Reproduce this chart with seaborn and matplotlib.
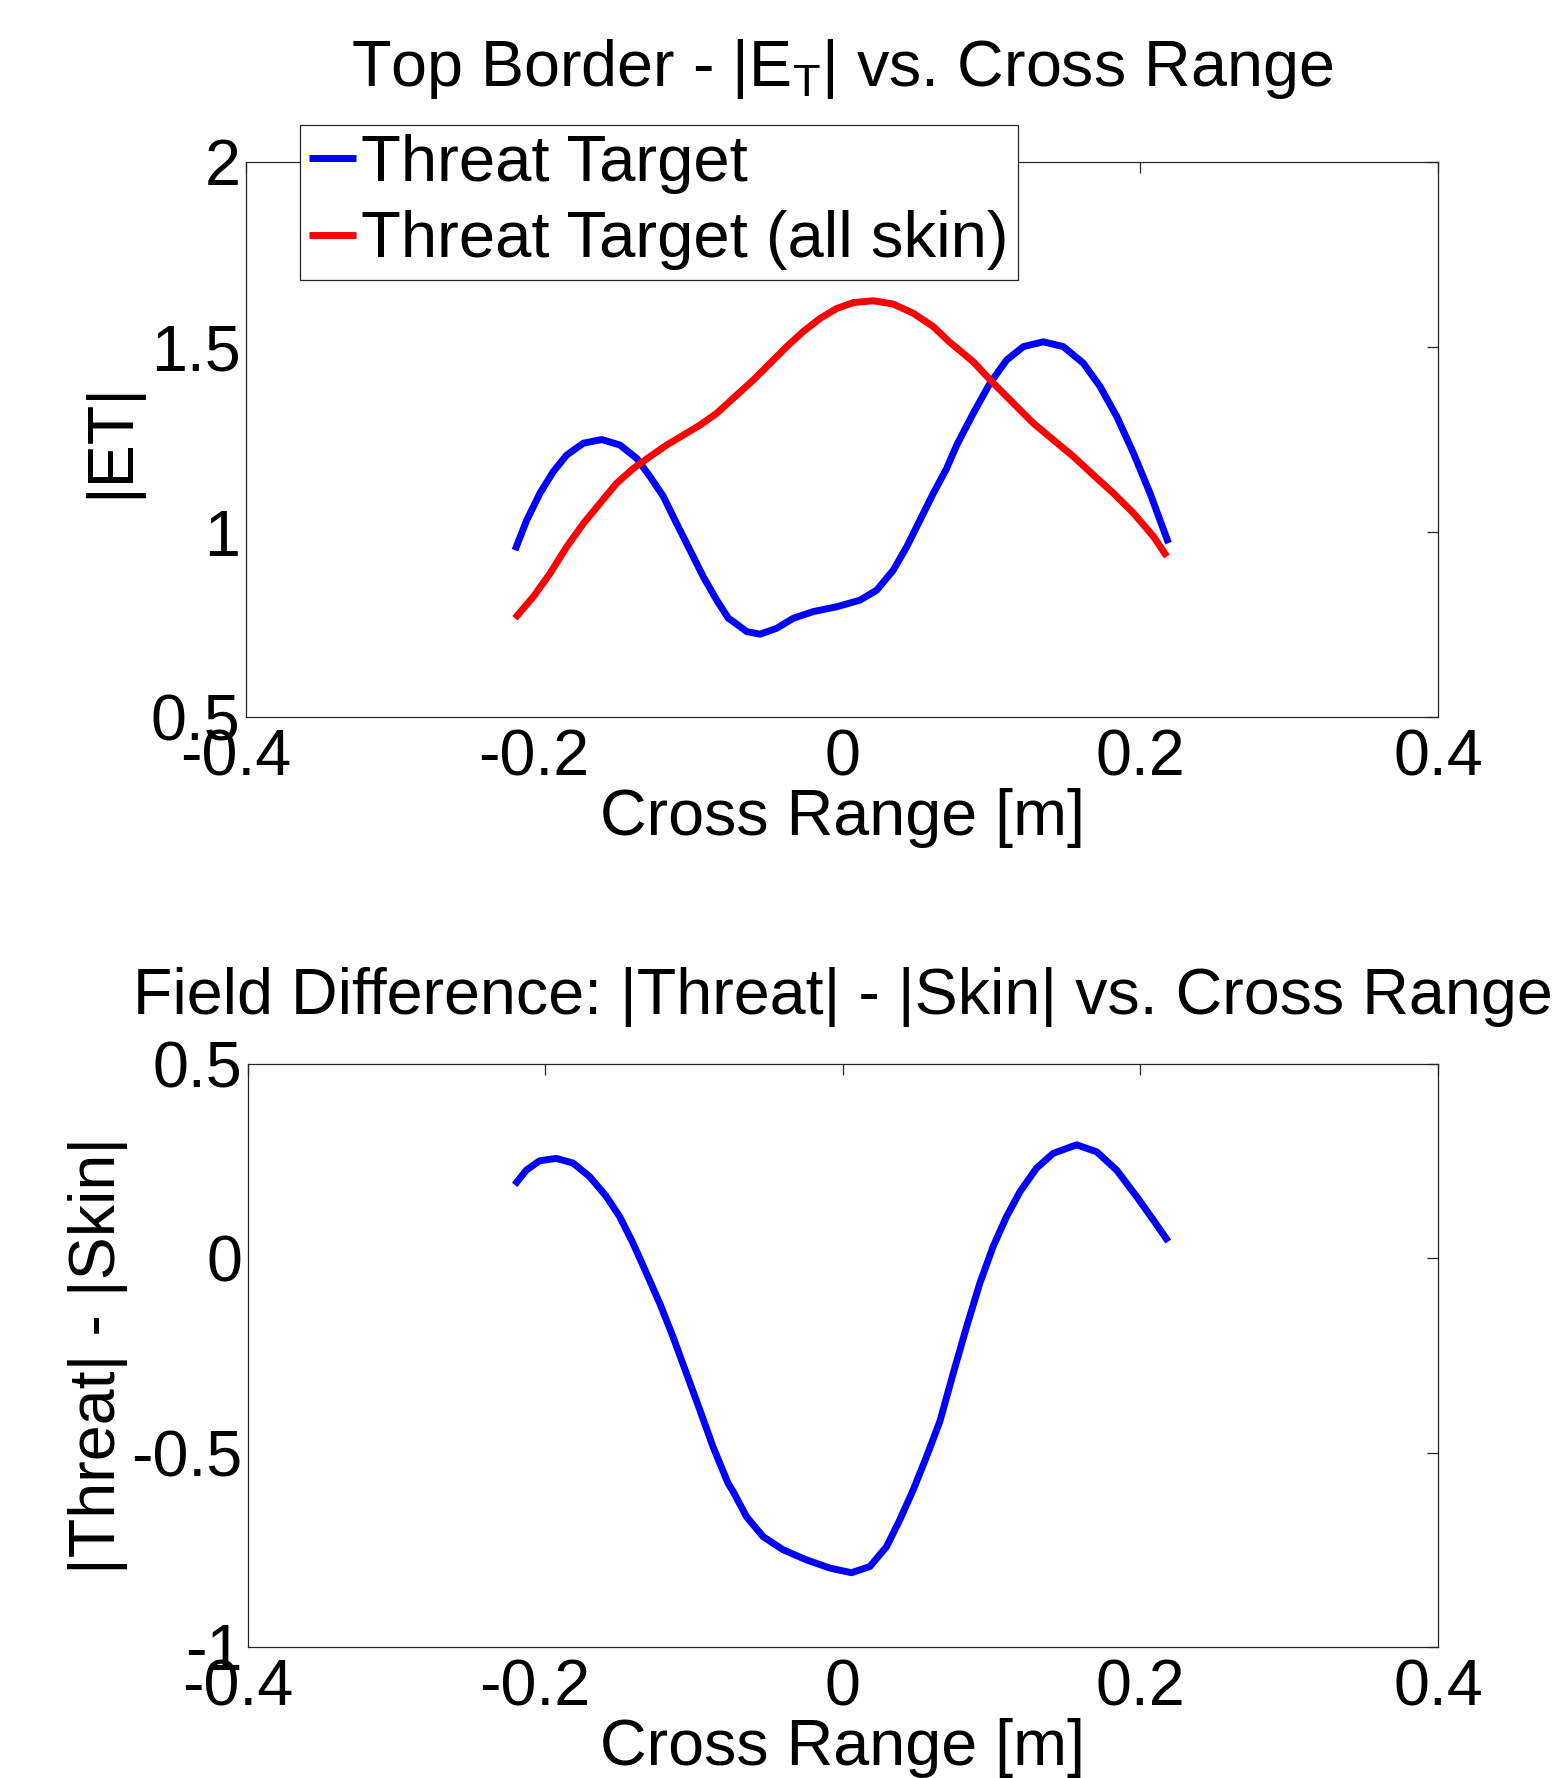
import matplotlib
matplotlib.use("Agg")
import matplotlib.pyplot as plt
import matplotlib.transforms as mtransforms
import seaborn as sns
import pandas as pd

# Top panel: |E_T| along the top border
x_threat = [-0.2195, -0.2116, -0.2027, -0.1938, -0.1848, -0.1736, -0.1613, -0.1490,
            -0.1378, -0.1289, -0.1199, -0.1110, -0.1020, -0.0931, -0.0841, -0.0763,
            -0.0730, -0.0640, -0.0550, -0.0438, -0.0327, -0.0193, -0.0036, 0.0121,
            0.0233, 0.0344, 0.0434, 0.0523, 0.0613, 0.0700, 0.0770, 0.0881, 0.0993,
            0.1105, 0.1217, 0.1351, 0.1485, 0.1620, 0.1732, 0.1844, 0.1956, 0.2067,
            0.2191]
et_threat = [0.951, 1.032, 1.105, 1.163, 1.208, 1.240, 1.250, 1.235,
             1.199, 1.150, 1.096, 1.023, 0.951, 0.879, 0.816, 0.767,
             0.758, 0.731, 0.724, 0.740, 0.767, 0.785, 0.798, 0.816,
             0.843, 0.897, 0.960, 1.032, 1.105, 1.170, 1.235, 1.321, 1.402,
             1.465, 1.501, 1.514, 1.501, 1.456, 1.393, 1.312, 1.213, 1.105,
             0.970]

x_skin = [-0.2195, -0.2072, -0.1960, -0.1848, -0.1736, -0.1624, -0.1512, -0.1400,
          -0.1289, -0.1177, -0.1065, -0.0953, -0.0841, -0.0756, -0.0707, -0.0595,
          -0.0483, -0.0371, -0.0260, -0.0148, -0.0036, 0.0076, 0.0210, 0.0344,
          0.0479, 0.0613, 0.0720, 0.0881, 0.1016, 0.1150, 0.1284, 0.1418, 0.1553,
          0.1687, 0.1821, 0.1956, 0.2090, 0.2180]
et_skin = [0.767, 0.825, 0.888, 0.960, 1.023, 1.078, 1.132, 1.172,
           1.204, 1.235, 1.262, 1.289, 1.321, 1.352, 1.370, 1.411,
           1.456, 1.501, 1.542, 1.577, 1.604, 1.620, 1.625, 1.616,
           1.591, 1.555, 1.514, 1.460, 1.402, 1.348, 1.294, 1.249, 1.204,
           1.154, 1.105, 1.051, 0.988, 0.934]

# Bottom panel: |Threat| - |Skin|
x_diff = [-0.2205, -0.2126, -0.2037, -0.1925, -0.1813, -0.1701, -0.1589, -0.1499,
          -0.1410, -0.1320, -0.1230, -0.1141, -0.1051, -0.0961, -0.0872, -0.0771,
          -0.0737, -0.0647, -0.0536, -0.0401, -0.0244, -0.0087, 0.0058, 0.0182,
          0.0294, 0.0383, 0.0473, 0.0563, 0.0652, 0.0742, 0.0832, 0.0921, 0.1010,
          0.1100, 0.1190, 0.1302, 0.1414, 0.1571, 0.1706, 0.1840, 0.1974, 0.2086,
          0.2187]
field_diff = [0.189, 0.227, 0.251, 0.257, 0.245, 0.210, 0.159, 0.107,
              0.039, -0.038, -0.116, -0.202, -0.296, -0.390, -0.485, -0.579,
              -0.600, -0.665, -0.716, -0.750, -0.776, -0.797, -0.809, -0.793,
              -0.742, -0.673, -0.596, -0.510, -0.420, -0.296, -0.176, -0.064, 0.030,
              0.107, 0.171, 0.232, 0.270, 0.292, 0.274, 0.227, 0.159, 0.099,
              0.043]

x_ticks = [-0.4, -0.2, 0, 0.2, 0.4]
x_ticklabels = ["-0.4", "-0.2", "0", "0.2", "0.4"]
y_ticks_top = [0.5, 1, 1.5, 2]
y_ticklabels_top = ["0.5", "1", "1.5", "2"]
y_ticks_bot = [-1, -0.5, 0, 0.5]
y_ticklabels_bot = ["-1", "-0.5", "0", "0.5"]

sns.set_theme(style="white")
plt.rcParams["font.family"] = ["Liberation Sans", "DejaVu Sans"]
plt.rcParams["mathtext.fontset"] = "custom"
plt.rcParams["mathtext.rm"] = "Liberation Sans"
plt.rcParams["mathtext.it"] = "Liberation Sans"
for key in ("text.color", "axes.labelcolor", "xtick.labelcolor", "ytick.labelcolor"):
    plt.rcParams[key] = "black"

FS = 46.5
LW = 5.0
fig = plt.figure(figsize=(15.57, 17.78), dpi=100)
fig.patch.set_facecolor("white")
ax1 = fig.add_axes([0.158, 0.5967, 0.7656, 0.3122])
ax2 = fig.add_axes([0.159, 0.0737, 0.7646, 0.3279])

df_top = pd.concat([
    pd.DataFrame({"x": x_threat, "y": et_threat, "series": "Threat Target"}),
    pd.DataFrame({"x": x_skin, "y": et_skin, "series": "Threat Target (all skin)"}),
])
sns.lineplot(data=df_top, x="x", y="y", hue="series",
             palette={"Threat Target": "#0000ff", "Threat Target (all skin)": "#ff0000"},
             linewidth=LW, sort=False, estimator=None, ax=ax1,
             solid_joinstyle="round", solid_capstyle="butt")

sns.lineplot(x=x_diff, y=field_diff, color="#0000ff", linewidth=LW,
             sort=False, estimator=None, ax=ax2,
             solid_joinstyle="round", solid_capstyle="butt")


def style_axes(ax, yticks, ylabels, ylim):
    ax.set_xlim(-0.4, 0.4)
    ax.set_ylim(*ylim)
    ax.set_xticks(x_ticks)
    ax.set_xticklabels(x_ticklabels)
    ax.set_yticks(yticks)
    ax.set_yticklabels(ylabels)
    ax.tick_params(axis="both", direction="in", length=8, width=0.9, color="#262626",
                   top=True, right=True, labelsize=FS, labelcolor="black")
    ax.tick_params(axis="x", pad=8)
    ax.tick_params(axis="y", pad=4)
    for s in ax.spines.values():
        s.set_visible(True)
        s.set_color("#262626")
        s.set_linewidth(0.9)
    ax.set_xlabel("Cross Range [m]", fontsize=FS, labelpad=0, color="black")
    # negative labels keep their digits centred on the tick, the sign hangs left
    shift = mtransforms.ScaledTranslation(-0.10, 0, fig.dpi_scale_trans)
    for lab in ax.get_xticklabels():
        if lab.get_text().startswith("-"):
            lab.set_transform(lab.get_transform() + shift)


style_axes(ax1, y_ticks_top, y_ticklabels_top, (0.5, 2))
style_axes(ax2, y_ticks_bot, y_ticklabels_bot, (-1, 0.5))

ax1.set_ylabel("|ET|", fontsize=FS, labelpad=7, color="black")
ax2.set_ylabel("|Threat| - |Skin|", fontsize=FS, labelpad=2, color="black")
ax1.set_title(r"Top Border - |E$_\mathrm{T}$| vs. Cross Range", fontsize=FS, pad=55, color="black")
ax2.set_title("Field Difference: |Threat| - |Skin| vs. Cross Range", fontsize=FS, pad=36,
              color="black")

leg = ax1.legend(loc="upper left", bbox_to_anchor=(300 / 1557, 1 - 125 / 1778),
                 bbox_transform=fig.transFigure, fontsize=47, frameon=True,
                 fancybox=False, framealpha=1, edgecolor="#262626",
                 handlelength=0.72, handletextpad=0.08, labelspacing=0.25,
                 borderpad=0.14, borderaxespad=0)
leg.get_frame().set_linewidth(0.9)
for t in leg.get_texts():
    t.set_color("black")

fig.savefig("out.png", dpi=100, facecolor="white")
